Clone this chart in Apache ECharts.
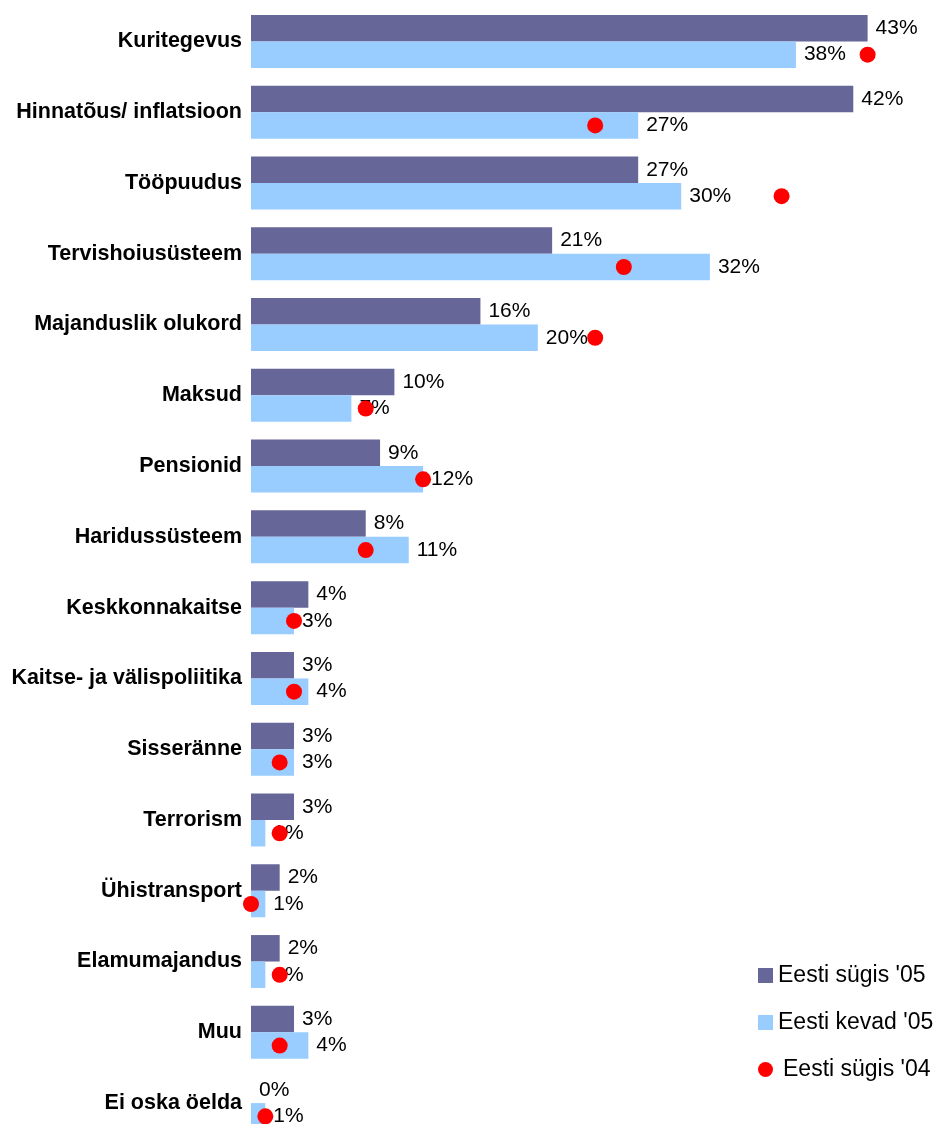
<!DOCTYPE html>
<html>
<head>
<meta charset="utf-8">
<script src="https://cdn.jsdelivr.net/npm/echarts@6/dist/echarts.min.js"></script>
<style>
  html, body { margin: 0; padding: 0; background: #fff; }
  #chart { width: 943px; height: 1124px; }
</style>
</head>
<body>
<div id="chart"></div>
<script>
const categories = ['Kuritegevus', 'Hinnatõus/ inflatsioon', 'Tööpuudus', 'Tervishoiusüsteem',
  'Majanduslik olukord', 'Maksud', 'Pensionid', 'Haridussüsteem', 'Keskkonnakaitse',
  'Kaitse- ja välispoliitika', 'Sisseränne', 'Terrorism', 'Ühistransport', 'Elamumajandus',
  'Muu', 'Ei oska öelda']
const autumn05 = [43, 42, 27, 21, 16, 10, 9, 8, 4, 3, 3, 3, 2, 2, 3, 0]
const spring05 = [38, 27, 30, 32, 20, 7, 12, 11, 3, 4, 3, 1, 1, 1, 4, 1]
const autumn04 = [43, 24, 37, 26, 24, 8, 12, 8, 3, 3, 2, 2, 0, 2, 2, 1]

const font = 'Liberation Sans, Arial, sans-serif'
const chart = echarts.init(document.getElementById('chart'), null, { renderer: 'canvas' })

const barLabel = {
  show: true,
  position: 'right',
  distance: 8,
  formatter: '{c}%',
  color: '#000',
  fontSize: 21,
  fontFamily: font
}

const option = {
  animation: false,
  textStyle: { fontFamily: font },
  grid: {
    left: 251,
    top: 6,
    width: 645.3,
    height: 1132.5,
    outerBoundsMode: 'none'
  },
  xAxis: {
    type: 'value',
    min: 0,
    max: 45,
    show: false
  },
  yAxis: {
    type: 'category',
    data: categories,
    inverse: true,
    axisLine: { show: false },
    axisTick: { show: false },
    splitLine: { show: false },
    axisLabel: {
      margin: 9,
      color: '#000',
      fontWeight: 'bold',
      fontSize: 21.5,
      fontFamily: font
    }
  },
  legend: {
    orient: 'vertical',
    left: 753,
    top: 959,
    itemWidth: 15,
    itemHeight: 15,
    itemGap: 24,
    textStyle: { fontSize: 23, color: '#000', fontFamily: font },
    data: [
      { name: "Eesti sügis '05", icon: 'rect' },
      { name: "Eesti kevad '05", icon: 'rect' },
      { name: "Eesti sügis '04", icon: 'circle', textStyle: { padding: [0, 0, 0, 5] } }
    ]
  },
  series: [
    {
      name: "Eesti sügis '05",
      type: 'bar',
      data: autumn05,
      barWidth: 26.5,
      barGap: '0%',
      itemStyle: { color: '#666699' },
      label: barLabel
    },
    {
      name: "Eesti kevad '05",
      type: 'bar',
      data: spring05,
      barWidth: 26.5,
      itemStyle: { color: '#99ccff' },
      label: barLabel
    },
    {
      name: "Eesti sügis '04",
      type: 'scatter',
      data: autumn04,
      symbol: 'circle',
      symbolSize: 16,
      symbolOffset: [0, 13.25],
      itemStyle: { color: '#ff0000', opacity: 1 },
      z: 10
    }
  ]
}

chart.setOption(option)
</script>
</body>
</html>
